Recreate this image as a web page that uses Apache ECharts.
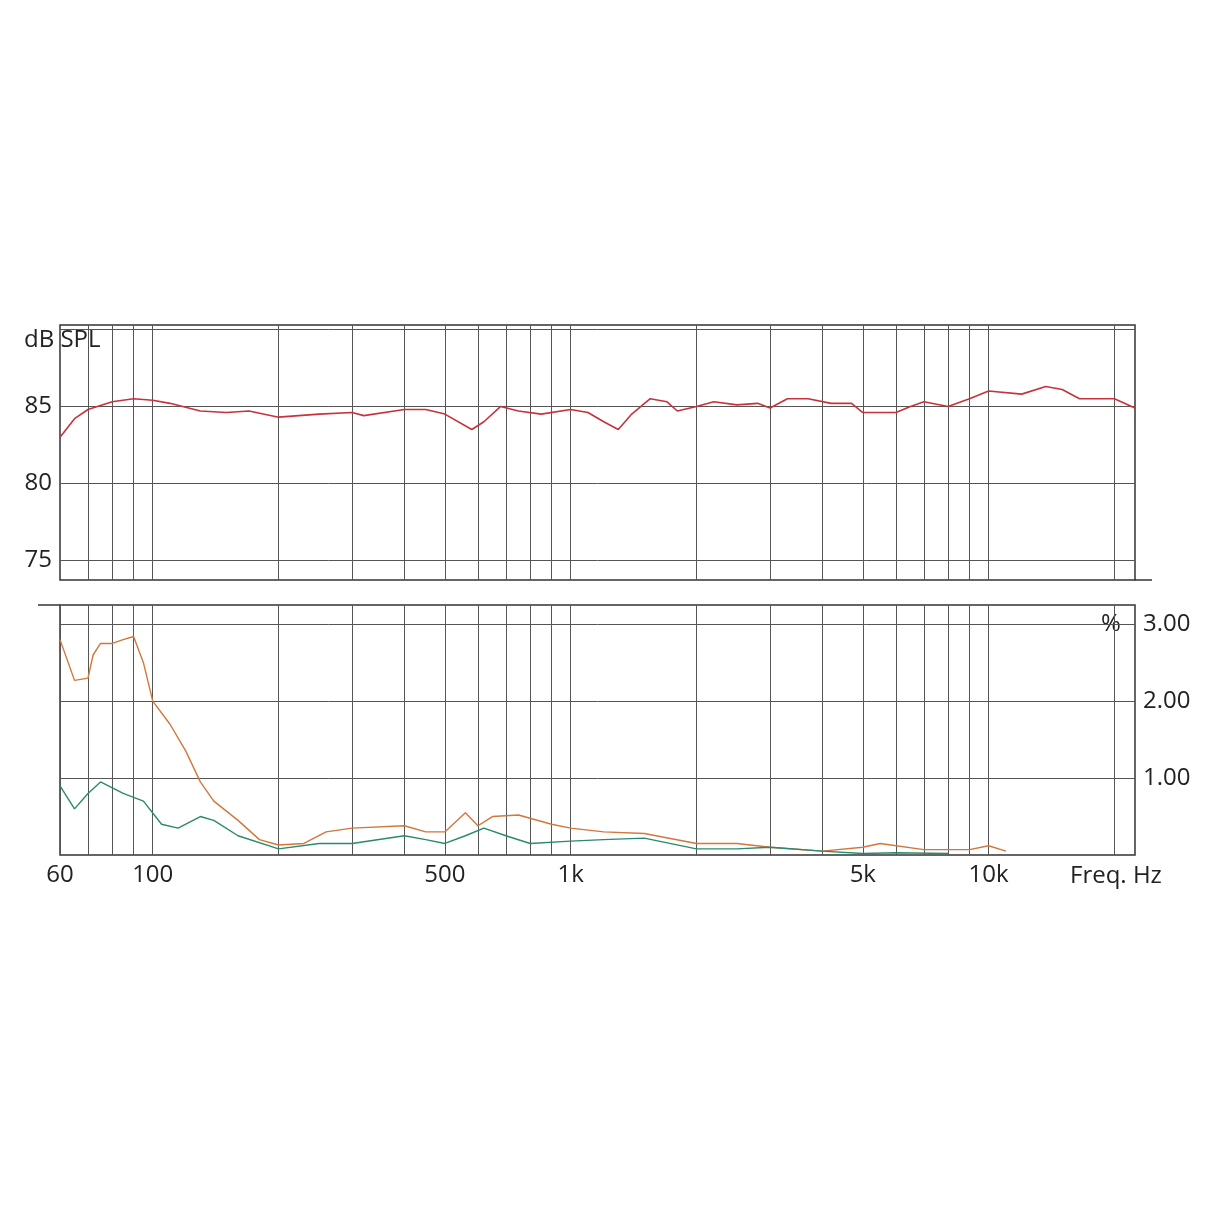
<!DOCTYPE html>
<html><head><meta charset="utf-8">
<script src="https://cdn.jsdelivr.net/npm/echarts@6/dist/echarts.min.js"></script>
<style>html,body{margin:0;background:#fff}#c{width:1214px;height:1214px}</style>
</head><body><div id="c"></div>
<script>
const splFreq=[60,65,70,80,90,100,110,130,150,170,200,250,300,320,400,450,500,580,620,680,750,850,1000,1100,1200,1300,1400,1550,1700,1800,2000,2200,2500,2800,3000,3300,3700,4200,4700,5000,5500,6000,6500,7000,8000,9000,10000,12000,13700,15000,16500,18000,20000,22400];
const splVal=[83,84.2,84.8,85.3,85.5,85.4,85.2,84.7,84.6,84.7,84.3,84.5,84.6,84.4,84.8,84.8,84.5,83.5,84,85,84.7,84.5,84.8,84.6,84,83.5,84.5,85.5,85.3,84.7,85,85.3,85.1,85.2,84.9,85.5,85.5,85.2,85.2,84.6,84.6,84.6,85,85.3,85,85.5,86,85.8,86.3,86.1,85.5,85.5,85.5,84.9];
const thdFreq=[60,65,70,72,75,80,85,90,95,100,110,120,130,140,160,180,200,230,260,300,400,450,500,560,600,650,750,900,1000,1200,1500,2000,2500,3000,4000,5000,5500,7000,9000,10000,11000];
const thdVal=[2.8,2.27,2.3,2.6,2.75,2.75,2.8,2.84,2.5,2.0,1.7,1.35,0.95,0.7,0.45,0.2,0.13,0.15,0.3,0.35,0.38,0.3,0.3,0.55,0.38,0.5,0.52,0.4,0.35,0.3,0.28,0.15,0.15,0.1,0.05,0.1,0.15,0.07,0.07,0.12,0.05];
const h3Freq=[60,65,70,75,85,95,105,115,130,140,160,200,250,300,400,450,500,560,620,700,800,1000,1200,1500,2000,2500,3000,4000,5000,6000,8000];
const h3Val=[0.9,0.6,0.8,0.95,0.8,0.7,0.4,0.35,0.5,0.45,0.25,0.08,0.15,0.15,0.25,0.2,0.15,0.25,0.35,0.25,0.15,0.18,0.2,0.22,0.08,0.08,0.1,0.05,0.02,0.03,0.02];
const gridFreqs=[70,80,90,100,200,300,400,500,600,700,800,900,1000,2000,3000,4000,5000,6000,7000,8000,9000,10000,20000];
const xLabels={60:'60',100:'100',500:'500',1000:'1k',5000:'5k',10000:'10k'};
const splTicks=[75,80,85,90];
const pctTicks=[1,2,3];
const F='"Open Sans", sans-serif';
const gl={color:'#555',width:1,type:'solid'};
const zip=(a,b)=>a.map((v,i)=>[v,b[i]]);
const vLines=(labels)=>({silent:true,symbol:'none',lineStyle:gl,
  label:{show:labels,position:'start',distance:8,fontFamily:F,fontSize:24,color:'#222',formatter:p=>xLabels[p.value]||''},
  data:(labels?[60]:[]).concat(gridFreqs).map(f=>({xAxis:f}))});
const chart=echarts.init(document.getElementById('c'));
chart.setOption({
  animation:false,
  grid:[{left:60,right:79,top:325,height:255,show:true,borderColor:'#333',borderWidth:1.5},
        {left:60,right:79,top:605,height:250,show:true,borderColor:'#333',borderWidth:1.5}],
  xAxis:[0,1].map(i=>({type:'log',logBase:10,min:60,max:22400,gridIndex:i,axisLabel:{show:false},axisTick:{show:false},splitLine:{show:false},minorSplitLine:{show:false},axisLine:{show:false}})),
  yAxis:[{gridIndex:0,min:73.7,max:90.3,axisLabel:{show:false},axisTick:{show:false},splitLine:{show:false},axisLine:{show:false}},
         {gridIndex:1,min:0,max:3.25,axisLabel:{show:false},axisTick:{show:false},splitLine:{show:false},axisLine:{show:false}}],
  graphic:[
    {type:'line',shape:{x1:1135,y1:580,x2:1152,y2:580},style:{stroke:'#333',lineWidth:1.5}},
    {type:'line',shape:{x1:38,y1:605,x2:60,y2:605},style:{stroke:'#333',lineWidth:1.5}},
    {type:'text',left:24,top:328,style:{text:'dB SPL',font:'24px '+F,fill:'#222'}},
    {type:'text',left:1101,top:612,style:{text:'%',font:'24px '+F,fill:'#222'}},
    {type:'text',left:1070,top:864,style:{text:'Freq. Hz',font:'24px '+F,fill:'#222'}}
  ],
  series:[
    {type:'line',xAxisIndex:0,yAxisIndex:0,data:zip(splFreq,splVal),smooth:false,symbol:'none',lineStyle:{color:'#c8323c',width:1.6},z:5,
     markLine:Object.assign(vLines(false),{data:vLines(false).data.concat(splTicks.map(v=>({yAxis:v,label:{show:v<90,position:'start',distance:8,fontFamily:F,fontSize:24,color:'#222',formatter:String(v)}})))})},
    {type:'line',xAxisIndex:1,yAxisIndex:1,data:zip(thdFreq,thdVal),smooth:false,symbol:'none',lineStyle:{color:'#d2773a',width:1.4},z:5,
     markLine:Object.assign(vLines(true),{data:vLines(true).data.concat(pctTicks.map(v=>({yAxis:v,label:{show:true,position:'end',distance:8,fontFamily:F,fontSize:24,color:'#222',formatter:v.toFixed(2)}})))})},
    {type:'line',xAxisIndex:1,yAxisIndex:1,data:zip(h3Freq,h3Val),smooth:false,symbol:'none',lineStyle:{color:'#2a8a6e',width:1.4},z:6}
  ]
});
</script></body></html>
